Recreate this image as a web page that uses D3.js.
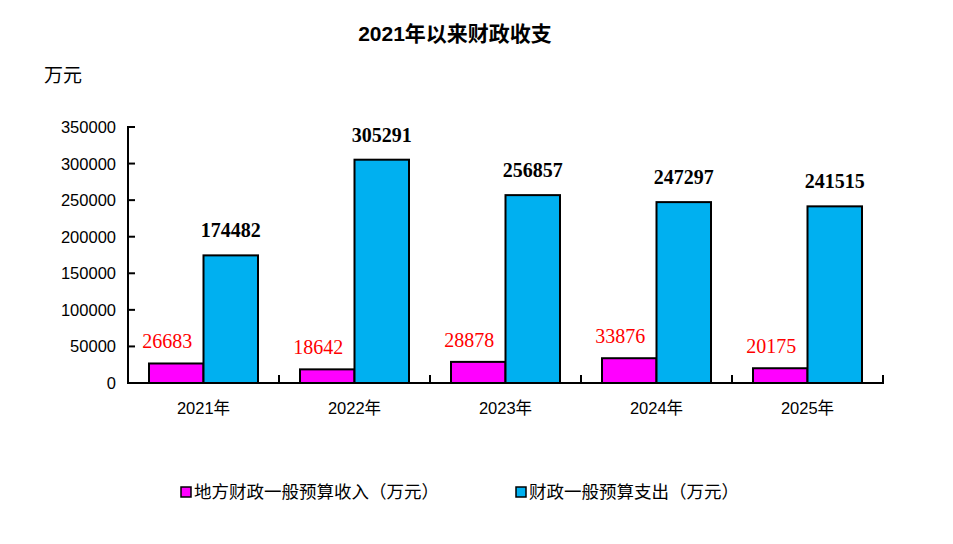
<!DOCTYPE html>
<html>
<head>
<meta charset="utf-8">
<script src="https://cdn.jsdelivr.net/npm/d3@7"></script>
<style>
  body { margin: 0; background: #fff; }
  svg { display: block; }
</style>
</head>
<body>
<svg id="chart" width="953" height="544"></svg>
<script>
// data
var years = ["2021年", "2022年", "2023年", "2024年", "2025年"]
var income = [26683, 18642, 28878, 33876, 20175]
var spending = [174482, 305291, 256857, 247297, 241515]
var y_ticks = [0, 50000, 100000, 150000, 200000, 250000, 300000, 350000]
var series_names = ["地方财政一般预算收入（万元）", "财政一般预算支出（万元）"]
var series_colors = ["#FF00FF", "#00B0F0"]

var svg = d3.select("#chart")
var sans = "'Liberation Sans', 'Noto Sans CJK SC', sans-serif"
var serif = "'Liberation Serif', 'DejaVu Serif', serif"

var left = 128, right = 883, top_y = 127, bottom_y = 383

var x = d3.scaleBand().domain(years).range([left, right])
var y = d3.scaleLinear().domain([0, 350000]).range([bottom_y, top_y])
var bar_w = 54.5
var gap = (x.bandwidth() - 2 * bar_w) / 2

// title
svg.append("text")
    .attr("x", 455).attr("y", 41)
    .attr("text-anchor", "middle")
    .attr("font-family", sans)
    .attr("font-weight", "bold")
    .attr("font-size", 21)
    .attr("fill", "#000")
    .text("2021年以来财政收支")

svg.append("text")
    .attr("x", 44).attr("y", 82)
    .attr("font-family", "'Noto Sans CJK SC', sans-serif")
    .attr("font-size", 19)
    .attr("fill", "#000")
    .text("万元")

// bars
var groups = svg.selectAll("g.year").data(years)
    .enter().append("g")
    .attr("class", "year")
    .attr("transform", function(d) { return "translate(" + x(d) + ",0)" })

groups.append("rect")
    .attr("x", gap)
    .attr("y", function(d, i) { return y(income[i]) })
    .attr("width", bar_w)
    .attr("height", function(d, i) { return bottom_y - y(income[i]) })
    .attr("fill", series_colors[0])
    .attr("stroke", "#000")
    .attr("stroke-width", 2)

groups.append("rect")
    .attr("x", gap + bar_w)
    .attr("y", function(d, i) { return y(spending[i]) })
    .attr("width", bar_w)
    .attr("height", function(d, i) { return bottom_y - y(spending[i]) })
    .attr("fill", series_colors[1])
    .attr("stroke", "#000")
    .attr("stroke-width", 2)

// value labels
groups.append("text")
    .attr("x", gap + bar_w / 2 - 9)
    .attr("y", function(d, i) { return y(income[i]) - 15 })
    .attr("text-anchor", "middle")
    .attr("font-family", serif)
    .attr("font-size", 20)
    .attr("fill", "#FF0000")
    .text(function(d, i) { return income[i] })

groups.append("text")
    .attr("x", gap + bar_w * 1.5)
    .attr("y", function(d, i) { return y(spending[i]) - 18 })
    .attr("text-anchor", "middle")
    .attr("font-family", serif)
    .attr("font-weight", "bold")
    .attr("font-size", 20)
    .attr("fill", "#000")
    .text(function(d, i) { return spending[i] })

// y axis
var y_axis = svg.append("g").attr("transform", "translate(" + left + ",0)")
y_axis.append("line")
    .attr("x1", 0).attr("x2", 0)
    .attr("y1", top_y - 1).attr("y2", bottom_y + 1)
    .attr("stroke", "#000").attr("stroke-width", 2)
y_axis.selectAll("line.tick").data(y_ticks)
    .enter().append("line")
    .attr("class", "tick")
    .attr("x1", 0).attr("x2", 7)
    .attr("y1", function(d) { return y(d) })
    .attr("y2", function(d) { return y(d) })
    .attr("stroke", "#000").attr("stroke-width", 2)
y_axis.selectAll("text").data(y_ticks)
    .enter().append("text")
    .attr("x", -12)
    .attr("y", function(d) { return y(d) })
    .attr("dy", "0.36em")
    .attr("text-anchor", "end")
    .attr("font-family", sans)
    .attr("font-size", 16.5)
    .attr("fill", "#000")
    .text(function(d) { return d })

// x axis
svg.append("line")
    .attr("x1", left - 1).attr("x2", right + 1)
    .attr("y1", bottom_y).attr("y2", bottom_y)
    .attr("stroke", "#000").attr("stroke-width", 2)
svg.selectAll("line.xtick").data(years)
    .enter().append("line")
    .attr("class", "xtick")
    .attr("x1", function(d) { return x(d) + x.bandwidth() })
    .attr("x2", function(d) { return x(d) + x.bandwidth() })
    .attr("y1", bottom_y).attr("y2", bottom_y - 8)
    .attr("stroke", "#000").attr("stroke-width", 2)
svg.selectAll("text.xlabel").data(years)
    .enter().append("text")
    .attr("class", "xlabel")
    .attr("x", function(d) { return x(d) + x.bandwidth() / 2 })
    .attr("y", 414)
    .attr("text-anchor", "middle")
    .attr("font-family", sans)
    .attr("font-size", 16.5)
    .attr("fill", "#000")
    .text(function(d) { return d })

// legend
var legend_x = [181, 516]
var legend = svg.selectAll("g.legend").data(series_names)
    .enter().append("g")
    .attr("class", "legend")
    .attr("transform", function(d, i) { return "translate(" + legend_x[i] + ",487)" })
legend.append("rect")
    .attr("width", 10).attr("height", 10)
    .attr("fill", function(d, i) { return series_colors[i] })
    .attr("stroke", "#000").attr("stroke-width", 1.5)
legend.append("text")
    .attr("x", 13).attr("y", 11)
    .attr("font-family", "'Noto Sans CJK SC', sans-serif")
    .attr("font-size", 17.5)
    .attr("fill", "#000")
    .text(function(d) { return d })
</script>
</body>
</html>
